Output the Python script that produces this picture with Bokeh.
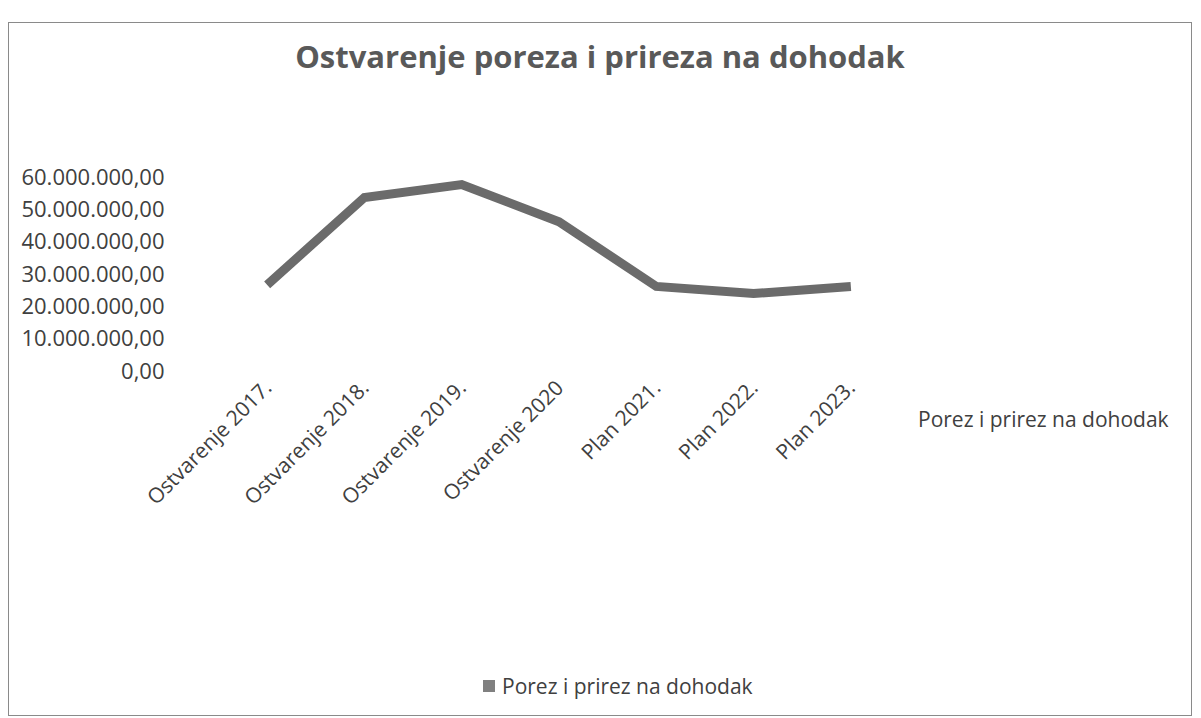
from bokeh.plotting import figure
from bokeh.models import FixedTicker, FactorRange, Div
from bokeh.layouts import column, row
from bokeh.embed import file_html
from bokeh.resources import INLINE
import math

categories = ["Ostvarenje 2017.", "Ostvarenje 2018.", "Ostvarenje 2019.", "Ostvarenje 2020",
              "Plan 2021.", "Plan 2022.", "Plan 2023."]
values = [26_500_000, 53_500_000, 57_500_000, 46_000_000, 26_000_000, 23_800_000, 26_000_000]
y_ticks = [0, 10_000_000, 20_000_000, 30_000_000, 40_000_000, 50_000_000, 60_000_000]
y_tick_labels = ["0,00", "10.000.000,00", "20.000.000,00", "30.000.000,00",
                 "40.000.000,00", "50.000.000,00", "60.000.000,00"]
series_name = "Porez i prirez na dohodak"
title_text = "Ostvarenje poreza i prireza na dohodak"

FONT = "Open Sans"
TEXT = "#404040"
LINE = "#6b6b6b"
SWATCH = "#808080"

p = figure(width=897, height=470, output_backend="svg", toolbar_location=None,
           x_range=FactorRange(*categories), y_range=(0, 60_000_000),
           min_border_left=209, min_border_right=7, min_border_top=55, min_border_bottom=221,
           margin=0)
p.outline_line_color = None
p.xgrid.visible = False
p.ygrid.visible = False

p.line(categories, values, line_width=9, line_color=LINE, line_join="miter")

p.yaxis.ticker = FixedTicker(ticks=y_ticks)
p.yaxis.major_label_overrides = {t: l for t, l in zip(y_ticks, y_tick_labels)}
for ax in (p.xaxis[0], p.yaxis[0]):
    ax.axis_line_color = None
    ax.major_tick_line_color = None
    ax.minor_tick_line_color = None
    ax.major_label_text_font = FONT
    ax.major_label_text_color = TEXT
p.yaxis.major_label_text_font_size = "22px"
p.xaxis.major_label_text_font_size = "21px"
p.yaxis.major_label_standoff = 48
p.xaxis.major_label_orientation = math.pi / 4
p.xaxis.major_label_standoff = 7

title_div = Div(
    text=(f'<div style="width:1182px;margin-top:11px;text-align:center;font-family:\'Open Sans\';'
          f'font-weight:bold;font-size:31px;line-height:44px;color:#595959;white-space:nowrap;">{title_text}</div>'),
    width=1182, height=98, margin=0)

depth_div = Div(
    text=(f'<div style="margin-top:283px;margin-left:12px;font-family:\'Open Sans\';font-size:21px;'
          f'line-height:30px;color:{TEXT};white-space:nowrap;">{series_name}</div>'),
    width=285, height=470, margin=0)

legend_div = Div(
    text=(f'<div style="margin-top:80px;margin-left:474px;font-family:\'Open Sans\';font-size:21px;'
          f'line-height:30px;color:{TEXT};white-space:nowrap;">'
          f'<span style="display:inline-block;width:12px;height:12px;background:{SWATCH};'
          f'margin-right:7px;vertical-align:middle;position:relative;top:-2px;"></span>{series_name}</div>'),
    width=1182, height=124, margin=0)

layout = column(title_div, row(p, depth_div, margin=0), legend_div,
                margin=(22, 0, 0, 8), styles={"border": "1px solid #8a8a8a", "background": "white"})

open("out.html", "w").write(file_html(layout, INLINE))
